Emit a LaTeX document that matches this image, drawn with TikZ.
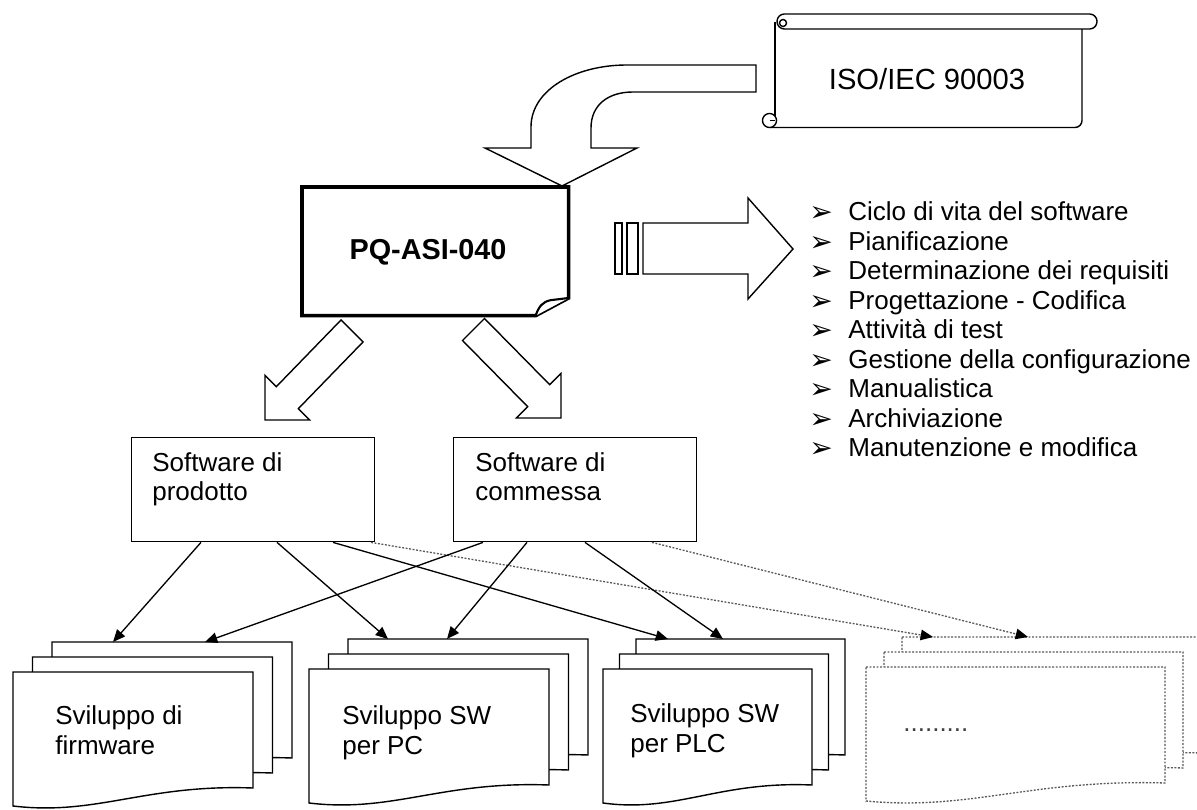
\documentclass[tikz,border=0pt]{standalone}
\usepackage{fontspec}
\setmainfont{Liberation Sans}
\newfontfamily\dingfont{DejaVu Sans}
\usetikzlibrary{arrows.meta,calc}

% one document sheet with a wavy lower edge; #1 style, #2 left, #3 top, #4 width, #5 name
\newcommand{\docsheet}[5]{%
  \node[inner sep=0pt, outer sep=0pt, minimum width={#4*0.02cm}, minimum height=2.32cm, anchor=north west] (#5) at (#2,#3) {};
  \path[#1] (#5.north west) -- (#5.north east) -- ($(#5.north east)+(0,116)$)
     .. controls ($(#5.north west)+(0.55*#4,112)$) and ($(#5.north west)+(0.35*#4,144)$) .. ($(#5.north west)+(0,134)$) -- cycle;
}
% a pile of three sheets; #1 style, #2 name prefix, #3 front left, #4 front top, #5 width, #6 dx, #7 dy
\newcommand{\sheetpile}[7]{%
  \docsheet{#1}{#3+2*#6}{#4-2*#7}{#5}{#2b}
  \docsheet{#1}{#3+#6}{#4-#7}{#5}{#2m}
  \docsheet{#1}{#3}{#4}{#5}{#2f}
}

\begin{document}
\begin{tikzpicture}[x=0.02cm, y=-0.02cm,
  shape line/.style={draw=black, line width=0.8pt, fill=white, line join=miter},
  heavy line/.style={draw=black, line width=2pt, fill=white},
  solid sheet/.style={draw=black, line width=0.8pt, fill=white},
  dotted sheet/.style={draw=black!65, line width=0.75pt, dash pattern=on 1.1pt off 0.9pt, fill=white},
  link/.style={draw=black, line width=0.75pt, -{Triangle[length=7pt,width=6pt]}},
  faint link/.style={draw=black!65, line width=0.75pt, dash pattern=on 1.1pt off 0.9pt, -{Triangle[length=7pt,width=6pt,color=black]}},
  body/.style={font=\fontsize{14.8}{16.9}\selectfont, inner sep=0pt, anchor=base west, align=left},
  title/.style={font=\fontsize{16.6}{19}\selectfont, inner sep=0pt, anchor=base},
  bullet/.style={font=\dingfont\fontsize{16}{18}\selectfont, inner sep=0pt, anchor=base west},
  box/.style={draw=black, line width=0.8pt, fill=white, anchor=north west, inner sep=0pt, minimum width=4.86cm, minimum height=2.08cm},
]
\useasboundingbox (0,0) rectangle (1197,810);

% ---- standard scroll ----
\draw[shape line, fill=none, rounded corners=4pt] (770,127.5) -- (1082,127.5) -- (1082,29);
\draw[shape line, fill=none] (775,22) -- (775,121);
\draw[shape line, rounded corners=4.2pt] (777,14) rectangle (1097,29);
\draw[shape line] (783,23) circle[radius=2pt];
\draw[shape line] (769.5,120.5) circle[radius=4pt];
\draw[shape line, fill=none] (769.5,120.5) -- (775,120.5);
\node[title] (iso) at (927,89.5) {ISO/IEC 90003};

% ---- bent block arrow into the procedure ----
\draw[shape line] (756,65) -- (627,65) .. controls (575,65) and (531,90) .. (531,127) -- (531,148)
  -- (485,148) -- (562,186) -- (637,148) -- (591,148) -- (591,128)
  .. controls (591,105) and (608,92) .. (633,92) -- (756,92) -- cycle;

% ---- procedure sheet with folded corner ----
\node[inner sep=0pt, minimum width=5.32cm, minimum height=2.56cm, anchor=north west] (pq) at (302,187) {};
\draw[heavy line] (pq.north west) -- (pq.north east) -- ($(pq.north east)+(0,111)$)
  -- ($(pq.south east)+(-33,0)$) -- (pq.south west) -- cycle;
\draw[line width=1.2pt, fill=white, line join=round] ($(pq.south east)+(-33,0)$)
  .. controls ($(pq.south east)+(-30,-9)$) and ($(pq.south east)+(-26,-14)$) .. ($(pq.south east)+(-18,-15.5)$)
  -- ($(pq.north east)+(0,111)$);
\node[title, font=\bfseries\fontsize{16.4}{19}\selectfont] (pqlabel) at (428,260) {PQ-ASI-040};

% ---- striped arrow towards the topic list ----
\draw[shape line] (615,223) rectangle (622,274);
\draw[shape line] (627,223) rectangle (638,274);
\draw[shape line] (643,223) -- (748,223) -- (748,198) -- (793,249) -- (748,299) -- (748,274) -- (643,274) -- cycle;

% ---- topic list ----
\foreach \entry [count=\k] in {Ciclo di vita del software, Pianificazione, Determinazione dei requisiti,
    Progettazione - Codifica, Attività di test, Gestione della configurazione, Manualistica,
    Archiviazione, Manutenzione e modifica}{
  \node[bullet] (mark\k) at (809, 222+29.5*\k-29.5) {➢};
  \node[body] (topic\k) at (848, 221+29.5*\k-29.5) {\entry};
}

% ---- diagonal block arrows ----
\draw[shape line] (341,320) -- (363,342) -- (298.3,408.7) -- (309.6,420) -- (265,420) -- (265,375.4) -- (276.3,386.7) -- cycle;
\draw[shape line] (484.5,318.5) -- (549.7,384.7) -- (561,373.4) -- (561,418) -- (516.4,418) -- (527.7,406.7) -- (462.5,340.5) -- cycle;

% ---- software categories (base anchor sits on the last line) ----
\node[box] (prod) at (131,437) {};
\node[body] (prodlabel) at (152,501) {Software di\\prodotto};
\node[box] (comm) at (453,437) {};
\node[body] (commlabel) at (475,501) {Software di\\commessa};

% ---- development areas ----
\sheetpile{solid sheet}{s1}{13}{672}{240}{19.5}{15}
\node[body] (s1label) at (55,754) {Sviluppo di\\firmware};
\sheetpile{solid sheet}{s2}{309}{669}{240}{19.5}{15}
\node[body] (s2label) at (342,754) {Sviluppo SW\\per PC};
\sheetpile{solid sheet}{s3}{603}{669}{209}{16.5}{15}
\node[body] (s3label) at (630,752) {Sviluppo SW\\per PLC};
\sheetpile{dotted sheet}{s4}{866}{667}{299}{18}{15}
\node[body, text=black!75] (s4label) at (903,731) {.........};

% ---- links ----
\draw[link] ($(prod.south west)+(70,0)$) -- ($(s1b.north west)+(61,0)$);
\draw[link] ($(prod.south west)+(146,0)$) -- ($(s2b.north west)+(40,0)$);
\draw[link] ($(prod.south west)+(202,0)$) -- ($(s3b.north west)+(32,0)$);
\draw[faint link] ($(prod.south west)+(240,0)$) -- ($(s4b.north west)+(31,0)$);
\draw[link] ($(comm.south west)+(30,0)$) -- ($(s1b.north west)+(153,0)$);
\draw[link] ($(comm.south west)+(74,0)$) -- ($(s2b.north west)+(99,0)$);
\draw[link] ($(comm.south west)+(132,0)$) -- ($(s3b.north west)+(87,0)$);
\draw[faint link] ($(comm.south west)+(199,0)$) -- ($(s4b.north west)+(126,0)$);
\end{tikzpicture}
\end{document}
